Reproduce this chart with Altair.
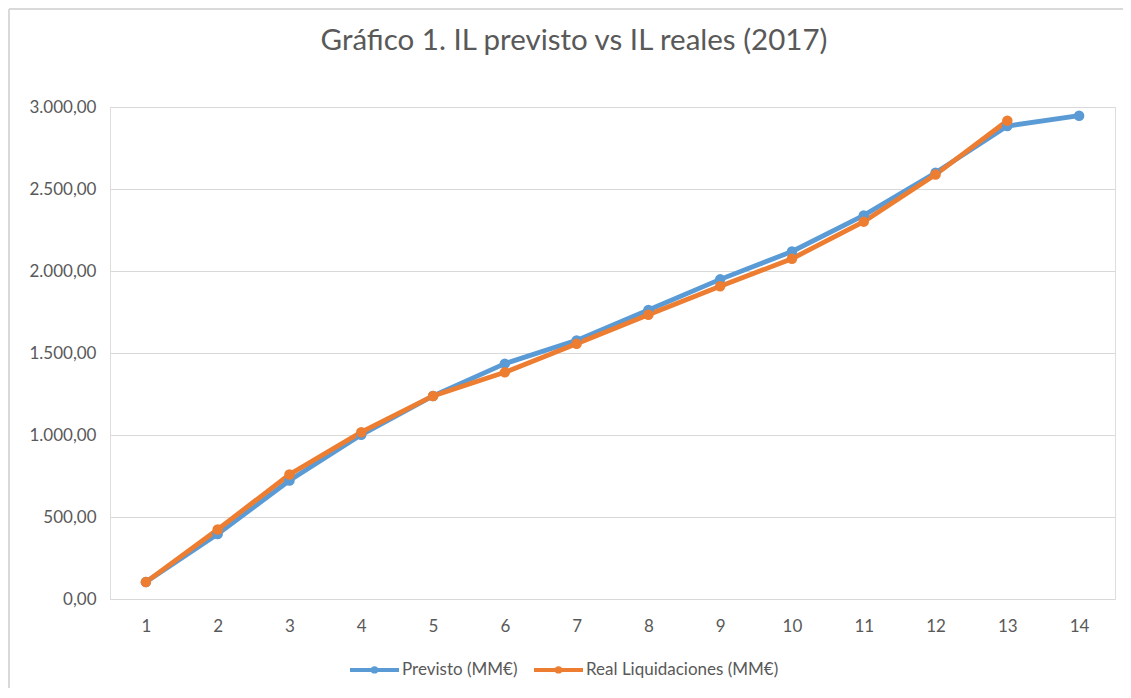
import altair as alt
import pandas as pd

periodos = list(range(1, 15))
previsto = [103, 396, 722, 1001, 1238, 1435, 1577, 1762, 1949, 2119, 2339, 2599, 2884, 2947]
real = [103, 424, 759, 1017, 1238, 1382, 1556, 1733, 1907, 2075, 2301, 2588, 2916]

s1 = "Previsto (MM€)"
s2 = "Real Liquidaciones (MM€)"
titulo = ["Gráfico 1. IL previsto vs IL reales (2017)"]

rows = []
for p, v in zip(periodos, previsto):
    rows.append({"periodo": p, "valor": v, "serie": s1, "orden": 0})
for p, v in zip(periodos, real):
    rows.append({"periodo": p, "valor": v, "serie": s2, "orden": 1})
df = pd.DataFrame(rows)

FONT = "Lato"
GREY = "#595959"

color = alt.Color(
    "serie:N",
    scale=alt.Scale(domain=[s1, s2], range=["#5B9BD5", "#ED7D31"]),
    legend=alt.Legend(
        title=None,
        orient="none",
        direction="horizontal",
        legendX=250,
        legendY=548,
        symbolType="M-2,0L2,0M0.14,0A0.14,0.14,0,1,1,-0.14,0A0.14,0.14,0,1,1,0.14,0",
        symbolSize=600,
        symbolStrokeWidth=4,
        labelFont=FONT,
        labelFontSize=17,
        labelColor=GREY,
        labelLimit=400,
        columnPadding=8,
        labelOffset=13,
    ),
)

x = alt.X(
    "periodo:O",
    scale=alt.Scale(padding=0.5),
    axis=alt.Axis(
        title=None,
        labelAngle=0,
        labelFont=FONT,
        labelFontSize=17,
        labelColor=GREY,
        labelPadding=19,
        ticks=False,
        domain=False,
        grid=False,
    ),
)
y = alt.Y(
    "valor:Q",
    scale=alt.Scale(domain=[0, 3000]),
    axis=alt.Axis(
        title=None,
        values=[0, 500, 1000, 1500, 2000, 2500, 3000],
        labelExpr="replace(replace(replace(format(datum.value, ',.2f'), ',', 'X'), '.', ','), 'X', '.')",
        labelFont=FONT,
        labelFontSize=17,
        labelColor=GREY,
        labelPadding=14,
        ticks=False,
        domain=False,
        grid=True,
        gridColor="#D9D9D9",
        gridWidth=1.2,
    ),
)

one = pd.DataFrame({"a": [0]})
border_top = alt.Chart(one).mark_rule(color="#D9D9D9", strokeWidth=2, clip=False).encode(
    x=alt.value(-101), x2=alt.value(1013), y=alt.value(-98)
)
border_left = alt.Chart(one).mark_rule(color="#D9D9D9", strokeWidth=2, clip=False).encode(
    x=alt.value(-101), y=alt.value(-98), y2=alt.value(591)
)

title = alt.Chart(pd.DataFrame({"t": titulo})).mark_text(
    font=FONT, fontSize=29.5, color=GREY, align="center", baseline="alphabetic", clip=False
).encode(text="t:N", x=alt.value(464), y=alt.value(-57))

lines = alt.Chart(df).mark_line(
    strokeWidth=4.8,
    point=alt.OverlayMarkDef(filled=True, size=110, opacity=1),
).encode(x=x, y=y, color=color, order="orden:Q", detail="serie:N")

chart = alt.layer(border_top, border_left, title, lines).properties(
    width=1005,
    height=492,
    autosize=alt.AutoSizeParams(type="none"),
    padding={"left": 102, "top": 99, "right": 8, "bottom": 89},
).configure_view(stroke=None).configure(background="transparent")

chart.save("out.html", embed_options={"renderer": "svg", "actions": False})
